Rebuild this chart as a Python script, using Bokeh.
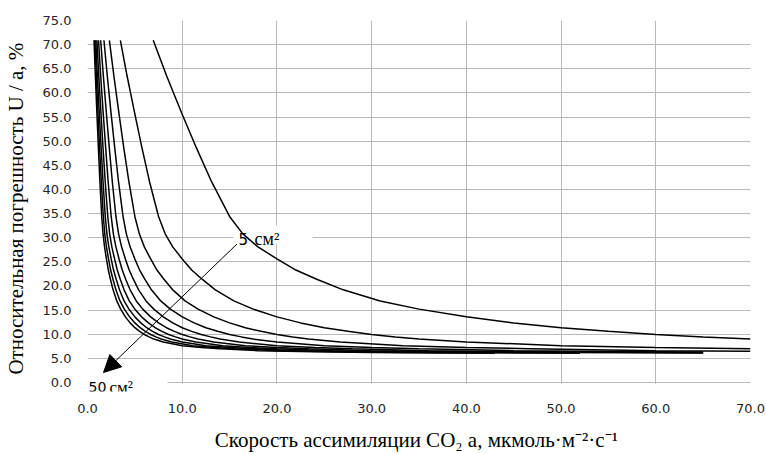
from bokeh.plotting import figure
from bokeh.models import FixedTicker, NumeralTickFormatter, Label, Arrow, NormalHead, Range1d
from bokeh.embed import file_html
from bokeh.resources import INLINE

# ---------------- data ----------------
X_TICKS = [0, 10, 20, 30, 40, 50, 60, 70]
Y_TICKS = [0, 5, 10, 15, 20, 25, 30, 35, 40, 45, 50, 55, 60, 65, 70, 75]

AREAS = [5, 10, 15, 20, 25, 30, 35, 40, 45, 50]   # chamber area, cm^2

# error levels (U/a, %), shared by the family
LEVELS = [70.9, 63.6, 55.9, 48.6, 41.6, 34.4, 30.8, 28.1, 25.6, 23.3, 21.4, 19.2, 16.9, 15.2, 13.6,
          12.35, 11.35, 10.6, 9.95, 9.45, 9.0, 8.4, 7.62, 7.25, 7.0, 6.6, 6.35, 6.2, 6.1]

a_5 = [6.94, 8.34, 9.93, 11.5, 13.1, 15.0, 16.4, 18.0, 20.0, 22.0, 24.2, 27.0, 30.9, 35.0, 40.0, 45.0, 50.0,
       55.0, 60.0, 65.0, 70.0]
u_5 = LEVELS[:21]

a_10 = [3.47, 4.17, 4.97, 5.75, 6.55, 7.5, 8.2, 9.0, 10.0, 11.0, 12.1, 13.5, 15.45, 17.5, 20.0, 22.5, 25.0,
        27.5, 30.0, 32.5, 35.0, 40.0, 50.0, 60.0, 70.0]
u_10 = LEVELS[:25]

a_15 = [2.31, 2.78, 3.31, 3.83, 4.37, 5.0, 5.47, 6.0, 6.67, 7.33, 8.07, 9.0, 10.3, 11.67, 13.33, 15.0, 16.67,
        18.33, 20.0, 21.67, 23.33, 26.67, 33.33, 40.0, 46.67, 60.0, 70.0]
u_15 = LEVELS[:26] + [6.48]

a_20 = [1.735, 2.085, 2.48, 2.875, 3.275, 3.75, 4.1, 4.5, 5.0, 5.5, 6.05, 6.75, 7.73, 8.75, 10.0, 11.25, 12.5,
        13.75, 15.0, 16.25, 17.5, 20.0, 25.0, 30.0, 35.0, 45.0, 60.0, 65.0]
u_20 = LEVELS[:27] + [6.3]

a_25 = [1.39, 1.67, 1.99, 2.3, 2.62, 3.0, 3.28, 3.6, 4.0, 4.4, 4.84, 5.4, 6.18, 7.0, 8.0, 9.0, 10.0,
        11.0, 12.0, 13.0, 14.0, 16.0, 20.0, 24.0, 28.0, 36.0, 48.0, 60.0, 65.0]
u_25 = LEVELS[:28] + [6.17]

a_30 = [1.16, 1.39, 1.655, 1.92, 2.18, 2.5, 2.73, 3.0, 3.33, 3.67, 4.03, 4.5, 5.15, 5.83, 6.67, 7.5, 8.33,
        9.17, 10.0, 10.83, 11.67, 13.33, 16.67, 20.0, 23.33, 30.0, 40.0, 50.0, 65.0]
u_30 = LEVELS[:28] + [6.1]

a_35 = [0.99, 1.19, 1.42, 1.64, 1.87, 2.14, 2.34, 2.57, 2.86, 3.14, 3.46, 3.86, 4.41, 5.0, 5.71, 6.43, 7.14,
        7.86, 8.57, 9.29, 10.0, 11.43, 14.29, 17.14, 20.0, 25.71, 34.29, 42.86, 52.0]
u_35 = LEVELS[:28] + [6.13]

a_40 = [0.87, 1.04, 1.24, 1.44, 1.64, 1.875, 2.05, 2.25, 2.5, 2.75, 3.03, 3.375, 3.86, 4.375, 5.0, 5.625, 6.25,
        6.875, 7.5, 8.125, 8.75, 10.0, 12.5, 15.0, 17.5, 22.5, 30.0, 37.5, 50.0, 52.0]
u_40 = LEVELS[:29] + [6.09]

a_45 = [0.77, 0.93, 1.10, 1.28, 1.46, 1.67, 1.82, 2.0, 2.22, 2.44, 2.69, 3.0, 3.43, 3.89, 4.44, 5.0, 5.56,
        6.11, 6.67, 7.22, 7.78, 8.89, 11.11, 13.33, 15.56, 20.0, 26.67, 33.33, 43.0]
u_45 = LEVELS[:28] + [6.11]

a_50 = [0.69, 0.83, 0.99, 1.15, 1.31, 1.5, 1.64, 1.8, 2.0, 2.2, 2.42, 2.7, 3.09, 3.5, 4.0, 4.5, 5.0,
        5.5, 6.0, 6.5, 7.0, 8.0, 10.0, 12.0, 14.0, 18.0, 24.0, 30.0, 40.0, 43.0]
u_50 = LEVELS[:29] + [6.09]

SERIES_A = [a_5, a_10, a_15, a_20, a_25, a_30, a_35, a_40, a_45, a_50]
SERIES_U = [u_5, u_10, u_15, u_20, u_25, u_30, u_35, u_40, u_45, u_50]

X_TITLE = "Скорость ассимиляции CO₂ a,  мкмоль·м⁻²·с⁻¹"
Y_TITLE = "Относительная погрешность U / a,  %"
LABEL_TOP_NUM = "5"
LABEL_BOT_NUM = "50"
LABEL_UNIT = "см²"

# ---------------- layout ----------------
W, H = 766, 454
FL, FR, FT = 87, 750, 20          # frame left / right / top (px)
Y0PX = 382                         # pixel row of value 0
FB = 391                           # frame bottom (below the 0 line, room for the 50 cm2 label)
XMIN, XMAX, YMAX = 0, 70, 75
PX_PER_Y = (Y0PX - FT) / YMAX
YMIN = -(FB - Y0PX) / PX_PER_Y


def dx(px):
    return XMIN + (px - FL) * (XMAX - XMIN) / (FR - FL)


def dy(py):
    return (Y0PX - py) / PX_PER_Y


p = figure(width=W, height=H, x_range=Range1d(XMIN, XMAX), y_range=Range1d(YMIN, YMAX),
           output_backend="svg", toolbar_location=None,
           min_border_left=FL, min_border_right=W - FR, min_border_top=FT, min_border_bottom=H - FB)
p.outline_line_color = None
p.background_fill_color = "white"
p.border_fill_color = "white"

GRID = "#b8b8b8"
for ax, ticks, standoff in ((p.xaxis[0], X_TICKS, 12), (p.yaxis[0], Y_TICKS, 16)):
    ax.ticker = FixedTicker(ticks=ticks)
    ax.formatter = NumeralTickFormatter(format="0.0")
    ax.axis_line_color = None
    ax.major_tick_line_color = None
    ax.minor_tick_line_color = None
    ax.major_tick_in = 0
    ax.major_tick_out = 0
    ax.major_label_standoff = standoff
    ax.major_label_text_font = "DejaVu Sans"
    ax.major_label_text_font_size = "13px"
    ax.major_label_text_color = "#262626"
    ax.axis_label_text_font = "Liberation Serif"
    ax.axis_label_text_font_size = "21px"
    ax.axis_label_text_font_style = "normal"
    ax.axis_label_text_color = "black"

p.xaxis[0].axis_label = X_TITLE
p.xaxis[0].axis_label_standoff = 12
p.yaxis[0].axis_label = Y_TITLE
p.yaxis[0].axis_label_standoff = 12

p.xgrid.ticker = FixedTicker(ticks=X_TICKS)
p.ygrid.ticker = FixedTicker(ticks=Y_TICKS)
for g in (p.xgrid[0], p.ygrid[0]):
    g.grid_line_color = GRID
    g.grid_line_width = 1

# white areas: strip under the zero line, and boxes behind the two area labels
p.quad(left=[XMIN, dx(233), dx(78)], right=[XMAX + 1, dx(312), dx(167)],
       top=[dy(383.2), dy(225), dy(360)], bottom=[YMIN - 1, dy(243), YMIN - 1],
       fill_color="white", line_color=None)

# curves
for a_vals, u_vals in zip(SERIES_A, SERIES_U):
    assert len(a_vals) == len(u_vals)
    p.line(a_vals, u_vals, line_color="black", line_width=1.5)

# arrow from 5 cm2 to 50 cm2
p.add_layout(Arrow(end=NormalHead(size=17, fill_color="black", line_color="black", line_width=1),
                   x_start=dx(236.5), y_start=dy(243.5), x_end=dx(103.0), y_end=dy(372.0),
                   line_color="black", line_width=1))


def lab(text, px, py, font, size):
    p.add_layout(Label(x=dx(px), y=dy(py), text=text, text_font=font, text_font_size=size,
                       text_align="left", text_baseline="alphabetic", text_color="black"))


lab(LABEL_TOP_NUM, 238, 238.5, "DejaVu Sans", "15px")
lab(LABEL_UNIT, 254, 238.5, "Liberation Serif", "18px")
lab(LABEL_BOT_NUM, 88, 386.5, "DejaVu Sans", "14px")
lab(LABEL_UNIT, 109, 386.5, "Liberation Serif", "17px")

open("out.html", "w").write(file_html(p, INLINE))
